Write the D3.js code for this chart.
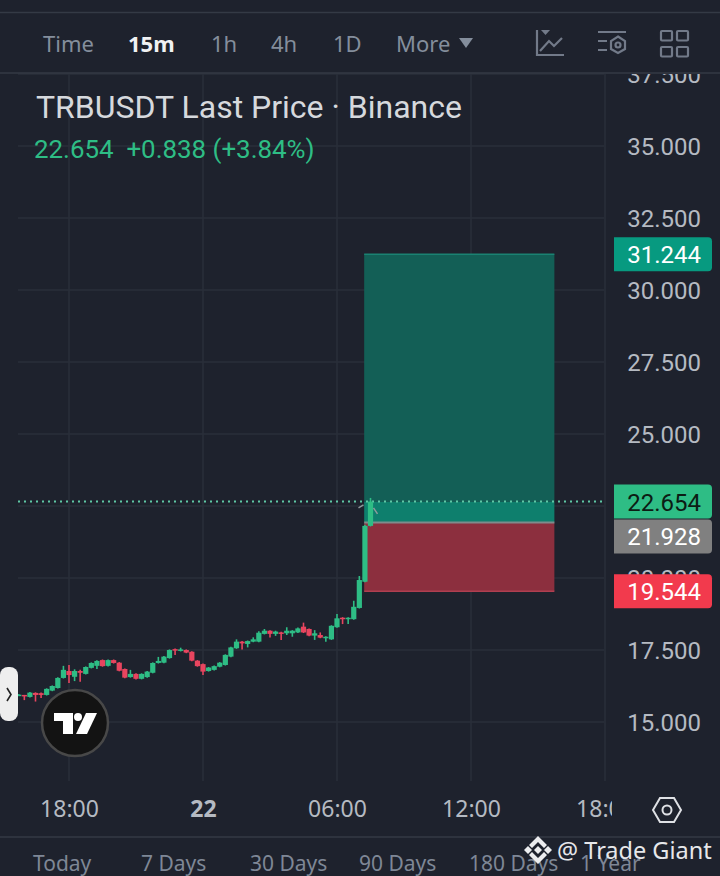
<!DOCTYPE html>
<html>
<head>
<meta charset="utf-8">
<script src="https://cdn.jsdelivr.net/npm/d3@7"></script>
<style>
  html, body { margin: 0; padding: 0; background: #1e222d; }
  svg { display: block; }
  text { font-family: Roboto, sans-serif; }
  .noto { font-family: "Noto Sans", sans-serif; }
</style>
</head>
<body>
<div id="chart"></div>
<script>
// Set Dimensions
const width = 720;
const height = 876;

// Data
const opens = [15.93,15.94,15.87,16.01,16.00,15.94,16.09,16.18,16.53,16.77,16.57,16.77,16.67,16.88,16.95,17.15,
  16.95,17.15,17.06,16.84,16.56,16.67,16.50,16.56,16.71,17.05,17.06,17.22,17.53,17.47,17.50,17.44,
  17.13,17.01,16.77,16.81,16.92,16.98,17.27,17.56,17.79,17.71,17.79,17.79,18.06,18.17,18.06,18.11,
  18.08,18.08,18.11,18.31,18.23,18.00,18.02,17.91,17.87,18.29,18.62,18.57,18.57,18.96,19.87,21.81];
const closes = [15.95,15.90,16.02,15.94,15.94,16.15,16.25,16.53,16.81,16.63,16.77,16.71,16.91,17.05,17.12,16.94,
  17.15,17.05,16.78,16.54,16.67,16.50,16.67,16.75,17.05,17.12,17.27,17.50,17.48,17.52,17.41,17.13,
  16.94,16.75,16.89,16.94,17.06,17.33,17.59,17.79,17.73,17.81,17.87,18.10,18.17,18.06,18.14,18.06,
  18.17,18.17,18.25,18.11,18.00,18.08,17.93,17.96,18.34,18.60,18.57,18.62,19.00,19.93,21.81,22.654];
const highs = [15.97,15.94,16.04,16.03,16.02,16.17,16.27,16.55,16.95,16.98,16.83,16.81,16.93,17.07,17.14,17.17,
  17.17,17.17,17.08,16.86,16.81,16.69,16.69,16.77,17.07,17.26,17.29,17.52,17.55,17.58,17.52,17.46,
  17.15,17.03,16.91,16.96,17.08,17.35,17.61,17.87,17.81,17.83,17.94,18.15,18.23,18.19,18.17,18.13,
  18.29,18.19,18.28,18.45,18.25,18.19,18.11,17.98,18.36,18.75,18.64,18.64,19.21,20.07,21.85,22.78];
const lows = [15.90,15.76,15.85,15.71,15.83,15.92,16.07,16.16,16.51,16.35,16.42,16.40,16.65,16.86,16.84,16.92,
  16.93,17.03,16.76,16.52,16.54,16.48,16.48,16.54,16.69,17.03,17.04,17.20,17.33,17.45,17.39,17.11,
  16.92,16.63,16.75,16.79,16.90,16.96,17.25,17.54,17.52,17.59,17.77,17.77,18.04,17.93,17.99,17.85,
  18.02,17.96,18.09,18.09,17.98,17.85,17.91,17.79,17.85,18.27,18.40,18.40,18.55,18.94,19.85,21.79];

const priceTicks = [15, 17.5, 20, 25, 27.5, 30, 32.5, 35, 37.5];
const gridTicks = [15, 17.5, 20, 22.5, 25, 27.5, 30, 32.5, 35, 37.5];
const timeTicks = ["2023-10-21T18:00", "2023-10-22T00:00", "2023-10-22T06:00", "2023-10-22T12:00", "2023-10-22T18:00"];
const timeLabels = ["18:00", "22", "06:00", "12:00", "18:00"];
const firstCandle = "2023-10-21T15:45";

const positionFrom = "2023-10-22T07:13";
const positionTo = "2023-10-22T15:44";
const targetPrice = 31.244;
const entryPrice = 21.928;
const stopPrice = 19.544;
const lastPrice = 22.654;

const intervals = ["Time", "15m", "1h", "4h", "1D", "More"];
const ranges = ["Today", "7 Days", "30 Days", "90 Days", "180 Days", "1 Year"];

const candles = opens.map((o, i) => ({
  t: d3.timeMinute.offset(new Date(firstCandle), i * 15),
  o: o, c: closes[i], h: highs[i], l: lows[i]
}));

const green = "#2ebd85";
const red = "#e8455f";
const grid = "#2a2f3a";

const svg = d3.select("#chart").append("svg")
  .attr("width", width)
  .attr("height", height);

svg.append("rect").attr("width", width).attr("height", height).attr("fill", "#1e222d");

// Scales
const x = d3.scaleTime()
  .domain([new Date(timeTicks[0]), new Date(timeTicks[4])])
  .range([69, 605]);

const y = d3.scaleLinear()
  .domain([15, 35])
  .range([722, 146]);

const defs = svg.append("defs");
defs.append("clipPath").attr("id", "time-clip")
  .append("rect").attr("x", 0).attr("y", 780).attr("width", 612).attr("height", 56);
defs.append("clipPath").attr("id", "price-clip")
  .append("rect").attr("x", 606).attr("y", 74).attr("width", 114).attr("height", 710);

// Grid
svg.append("g").selectAll("line")
  .data(gridTicks)
  .join("line")
  .attr("x1", 18).attr("x2", 604)
  .attr("y1", d => y(d)).attr("y2", d => y(d))
  .attr("stroke", grid).attr("stroke-width", 1.5);

svg.append("g").selectAll("line")
  .data(timeTicks)
  .join("line")
  .attr("x1", d => x(new Date(d))).attr("x2", d => x(new Date(d)))
  .attr("y1", 74).attr("y2", 781)
  .attr("stroke", grid).attr("stroke-width", 1.5);

// Position tool
const posX = x(new Date(positionFrom));
const posW = x(new Date(positionTo)) - posX;
svg.append("rect")
  .attr("x", posX).attr("y", y(targetPrice))
  .attr("width", posW).attr("height", y(lastPrice) - y(targetPrice))
  .attr("fill", "#135f56");
svg.append("rect")
  .attr("x", posX).attr("y", y(lastPrice))
  .attr("width", posW).attr("height", y(entryPrice) - y(lastPrice))
  .attr("fill", "#0e7f6d");
svg.append("rect")
  .attr("x", posX).attr("y", y(entryPrice))
  .attr("width", posW).attr("height", y(stopPrice) - y(entryPrice))
  .attr("fill", "#8c2f3e");
svg.append("line")
  .attr("x1", posX).attr("x2", posX + posW)
  .attr("y1", y(entryPrice)).attr("y2", y(entryPrice))
  .attr("stroke", "#7f8b8c").attr("stroke-width", 2);
svg.append("line")
  .attr("x1", posX).attr("x2", posX + posW)
  .attr("y1", y(stopPrice)).attr("y2", y(stopPrice))
  .attr("stroke", "#b03f50").attr("stroke-width", 1.5);
svg.append("line")
  .attr("x1", posX).attr("x2", posX + posW)
  .attr("y1", y(targetPrice)).attr("y2", y(targetPrice))
  .attr("stroke", "#1a8272").attr("stroke-width", 1.5);

// Last price line
svg.append("line")
  .attr("x1", 18).attr("x2", 606)
  .attr("y1", y(lastPrice)).attr("y2", y(lastPrice))
  .attr("stroke", "#5fc8a5").attr("stroke-width", 2)
  .attr("stroke-dasharray", "2 4");

// Candles
const candleG = svg.append("g").selectAll("g")
  .data(candles)
  .join("g")
  .attr("fill", d => d.c >= d.o ? green : red)
  .attr("stroke", d => d.c >= d.o ? green : red);

candleG.append("line")
  .attr("x1", d => x(d.t)).attr("x2", d => x(d.t))
  .attr("y1", d => y(d.h)).attr("y2", d => y(d.l))
  .attr("stroke-width", 1.6);

candleG.append("rect")
  .attr("x", d => x(d.t) - 2.6)
  .attr("width", 5.2)
  .attr("y", d => y(Math.max(d.o, d.c)))
  .attr("height", d => Math.max(1.5, Math.abs(y(d.o) - y(d.c))))
  .attr("stroke", "none");

// grey arrow marks by the last candle
const lastCandle = candles[candles.length - 1];
const lx = x(lastCandle.t);
const ly = y(lastCandle.h);
svg.append("path")
  .attr("d", `M${lx - 12},${ly + 10}L${lx - 7},${ly + 7}M${lx + 3},${ly + 10}L${lx + 7},${ly + 16}`)
  .attr("stroke", "#8f9a9c").attr("stroke-width", 1.5).attr("fill", "none");

// Price axis
const priceAxis = svg.append("g")
  .attr("clip-path", "url(#price-clip)")
  .append("g")
  .attr("transform", "translate(701,1)")
  .call(d3.axisLeft(y).tickValues(priceTicks).tickSize(0).tickPadding(0).tickFormat(d3.format(".3f")));
priceAxis.select(".domain").remove();
priceAxis.selectAll("text")
  .style("font-family", "Roboto, sans-serif")
  .style("font-size", "24px")
  .attr("fill", "#b5bac2");

// Price pills, the entry pill is pushed down clear of the last price pill
const pills = [
  { v: targetPrice, shift: 0, fill: "#079a80", ink: "#ffffff" },
  { v: lastPrice, shift: 0, fill: green, ink: "#0c1c14" },
  { v: entryPrice, shift: 14, fill: "#808080", ink: "#ffffff" },
  { v: stopPrice, shift: 0, fill: "#f23a4d", ink: "#ffffff" }
];
const pillG = svg.append("g").selectAll("g")
  .data(pills)
  .join("g")
  .attr("transform", d => `translate(614,${y(d.v) + d.shift})`);
pillG.append("path")
  .attr("d", "M0,-17H94a4,4 0 0 1 4,4V13a4,4 0 0 1 -4,4H0Z")
  .attr("fill", d => d.fill);
pillG.append("text")
  .attr("x", 87).attr("y", 9)
  .attr("text-anchor", "end")
  .attr("font-size", 24)
  .attr("fill", d => d.ink)
  .text(d => d3.format(".3f")(d.v));

// Time axis
const timeAxis = svg.append("g")
  .attr("clip-path", "url(#time-clip)")
  .append("g")
  .attr("transform", "translate(0,801)")
  .call(d3.axisBottom(x)
    .tickValues(timeTicks.map(d => new Date(d)))
    .tickSize(0).tickPadding(0)
    .tickFormat((d, i) => timeLabels[i]));
timeAxis.select(".domain").remove();
timeAxis.selectAll("text")
  .style("font-family", "'Noto Sans', sans-serif")
  .style("font-size", "23px")
  .style("font-weight", (d, i) => timeLabels[i] === "22" ? 700 : 400)
  .attr("fill", "#b5bac2");

// Legend
svg.append("text")
  .attr("x", 36).attr("y", 118)
  .attr("font-size", 32).attr("fill", "#d6d9dd")
  .text("TRBUSDT Last Price · Binance");
svg.append("text")
  .attr("x", 34).attr("y", 158)
  .attr("font-size", 25.9).attr("fill", green)
  .attr("xml:space", "preserve")
  .text("22.654  +0.838 (+3.84%)");

// Header
svg.append("rect").attr("width", width).attr("height", 73).attr("fill", "#1e222d");
[12.5, 73].forEach(v => svg.append("line")
  .attr("x1", 0).attr("x2", width).attr("y1", v).attr("y2", v)
  .attr("stroke", "#343a45").attr("stroke-width", 1.5));
const intervalX = [43, 128, 211, 271, 333, 396];
svg.append("g").selectAll("text")
  .data(intervals)
  .join("text")
  .attr("class", "noto")
  .attr("x", (d, i) => intervalX[i]).attr("y", 52)
  .attr("font-size", 22)
  .attr("font-weight", d => d === "15m" ? 700 : 400)
  .attr("fill", d => d === "15m" ? "#f0f1f3" : "#848e9c")
  .text(d => d);
svg.append("path").attr("d", "M459,38H473L466,48Z").attr("fill", "#848e9c");

// Header icons
const icon = svg.append("g").attr("fill", "none").attr("stroke", "#727a89").attr("stroke-width", 2.2);
icon.append("path").attr("d", "M537,30V55H564M540,51L549,41L554,46L562,38");
icon.append("path").attr("d", "M541,30H550L545.5,35Z").attr("fill", "#727a89").attr("stroke", "none");
icon.append("path").attr("d", "M598,32H626M598,41H607M598,50H607");
icon.append("path").attr("d", "M618,36.5L625,41L625,49L618,53L611,49L611,41Z");
icon.append("circle").attr("cx", 618).attr("cy", 45).attr("r", 2.5);
[[661,31],[677,31],[661,47],[677,47]].forEach(p => icon.append("rect")
  .attr("x", p[0]).attr("y", p[1]).attr("width", 11).attr("height", 9.5).attr("rx", 1));

// Bottom bar
svg.append("line").attr("x1", 0).attr("x2", width).attr("y1", 837).attr("y2", 837)
  .attr("stroke", "#343a45").attr("stroke-width", 1.5);
const rangeX = [33, 141, 250, 359, 469, 580];
svg.append("g").selectAll("text")
  .data(ranges)
  .join("text")
  .attr("class", "noto")
  .attr("x", (d, i) => rangeX[i]).attr("y", 871)
  .attr("font-size", 21).attr("fill", "#7e8796")
  .text(d => d);

// Settings hexagon
svg.append("path").attr("d", "M653,810L660,798H674L681,810L674,822H660Z")
  .attr("fill", "none").attr("stroke", "#dfe1e5").attr("stroke-width", 2);
svg.append("circle").attr("cx", 667).attr("cy", 810).attr("r", 4.5)
  .attr("fill", "none").attr("stroke", "#dfe1e5").attr("stroke-width", 2);

// Side handle
svg.append("rect").attr("x", 0).attr("y", 667).attr("width", 18).attr("height", 54).attr("rx", 8).attr("fill", "#eeeeee");
svg.append("path").attr("d", "M7,688L11,694.5L7,701").attr("fill", "none").attr("stroke", "#222").attr("stroke-width", 1.6);

// TradingView badge
svg.append("circle").attr("cx", 75).attr("cy", 723).attr("r", 33)
  .attr("fill", "#131313").attr("stroke", "#484848").attr("stroke-width", 2.5);
svg.append("path").attr("d", "M54,713H73V734H63V721H54Z").attr("fill", "#fff");
svg.append("circle").attr("cx", 78).attr("cy", 717).attr("r", 4).attr("fill", "#fff");
svg.append("path").attr("d", "M86,713H97L87,734H76Z").attr("fill", "#fff");

// Watermark
const wm = svg.append("g").attr("fill", "#ecedef");
wm.append("path").attr("d", "M538,836L547,845L544,848L538,842L532,848L529,845Z");
wm.append("path").attr("d", "M538,864L547,855L544,852L538,858L532,852L529,855Z");
wm.append("path").attr("d", "M528,846L532,850L528,854L524,850Z");
wm.append("path").attr("d", "M548,846L552,850L548,854L544,850Z");
wm.append("path").attr("d", "M538,846L542,850L538,854L534,850Z");
wm.append("text")
  .attr("class", "noto")
  .attr("x", 557).attr("y", 859)
  .attr("font-size", 23.5)
  .attr("fill", "#e6e7ea")
  .text("@ Trade Giant");
</script>
</body>
</html>
